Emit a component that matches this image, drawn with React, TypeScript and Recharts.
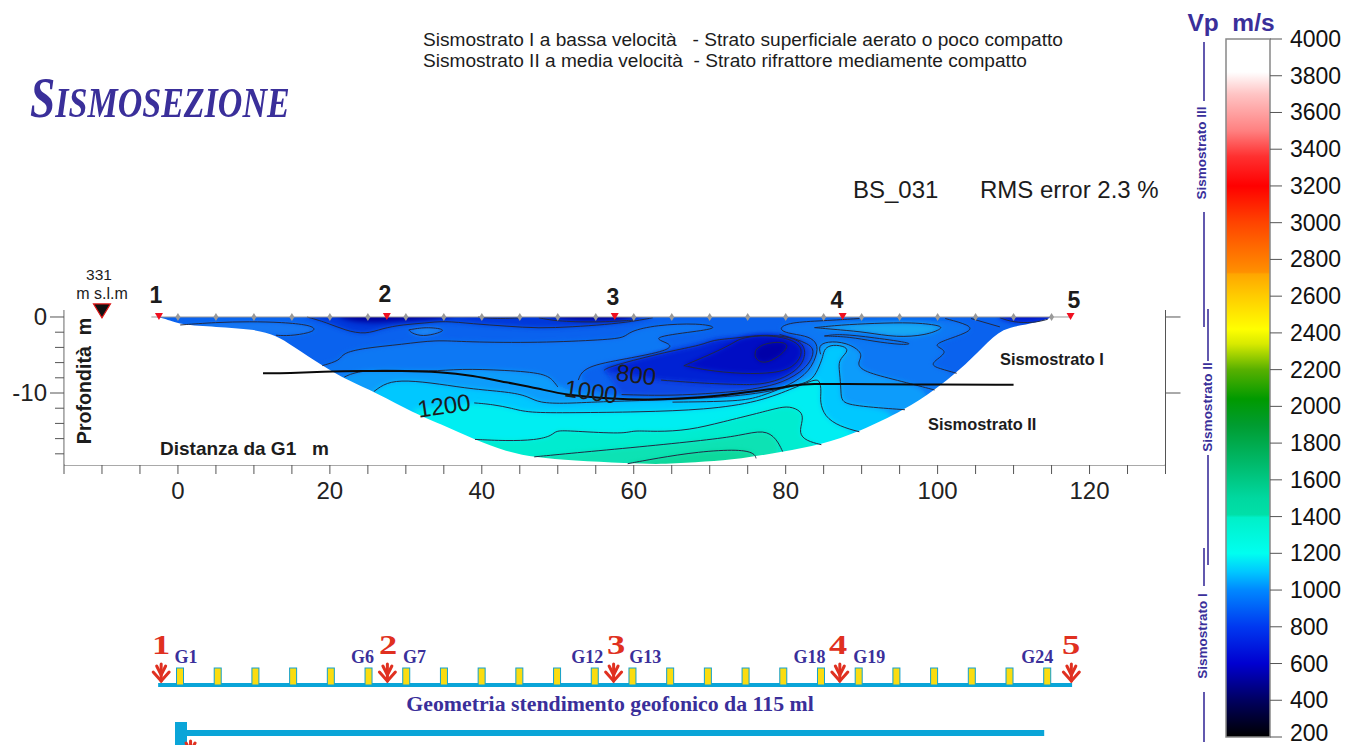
import React from 'react'
import { ScatterChart, Scatter, XAxis, YAxis, ReferenceArea, ReferenceLine } from 'recharts'

type P = [number, number]

// all section points are [distance m, depth m]
const sectionEdge: P[] = [[-3, 0], [-2, 0.1], [0.3, 1.05], [5, 1.3], [10, 1.6], [12.9, 2.4], [15.1, 3.8], [19, 6.4], [22.5, 8.4], [26, 9.9], [31.2, 12.7], [34.4, 14], [39.2, 16.2], [43.2, 17.7], [47.1, 18.5], [52, 18.9], [59, 19.25], [64.2, 19.4], [69.5, 19], [74, 18.7], [79.6, 17.7], [84.7, 16.8], [89.7, 15.1], [95.7, 12.2], [99.6, 9.6], [102.9, 7], [106, 3.9], [108.6, 1.4], [111.7, 1.05], [114.3, 0.35], [115, 0]]

const lensLeft: P[] = [[0.3, 1.05], [5, 0.7], [9.4, 0.6], [13.8, 0.7], [17.3, 1.05], [18.2, 1.6], [17.3, 2.1], [14.7, 2.5], [12.9, 2.4]]
const topDark: P[] = [[17, 0], [19.5, 0.7], [22.1, 1.8], [24.7, 2.3], [26.9, 1.5], [29.6, 1], [32.6, 0.8], [35, 0.5], [38.8, 0.9], [43.2, 1.2], [47.5, 1.5], [51.9, 1.3], [56.3, 1], [59.8, 0.6], [62.5, 0.1]]
const lens30: P[] = [[30.4, 1.7], [32.6, 1.3], [35.3, 1.6], [34.4, 2.1], [32.2, 2.6], [30.7, 2.1], [30.4, 1.7]]
const contour900: P[] = [[19, 6.4], [21.4, 5.7], [21.6, 4.8], [24.3, 4.1], [29.6, 3.6], [33.9, 3], [37.9, 3.3], [47.5, 3.4], [56.3, 3], [58.9, 2.7], [59.4, 1.9], [62.9, 1.05], [68.6, 0.8], [71.4, 1.4], [68.2, 1.9], [61.8, 2.7], [65.1, 3.5], [64.7, 4.4], [59, 5.5], [53.4, 6.5], [52.7, 8.3]]
const contour1000: P[] = [[21.9, 7.9], [23.4, 7.2], [26.9, 6.9], [33.5, 7.2], [37, 6.8], [43.2, 7], [48.4, 7.4], [49.5, 8.5], [50, 9.2]]
const contour1100: P[] = [[25.8, 9.8], [27.4, 8.6], [30, 8.3], [34.4, 8.8], [38.8, 9.5], [44, 9.9], [46.2, 10.5], [47.5, 11.3], [51, 11.4], [56.3, 11.1], [65.1, 10.9], [74, 10.4], [78.3, 9.7], [81.8, 8.9], [83.6, 8.3], [84.5, 6.3], [84.9, 5.2], [85.1, 4.1], [86.2, 3.6], [88, 3.9], [88.2, 4.6], [86.9, 5.7], [87.1, 7.2], [87.3, 9.8], [87.3, 11.1], [88.8, 11.7], [95.7, 12.2]]
const contour1200: P[] = [[39, 11.3], [41.4, 11.5], [44, 12], [46, 12.6], [51.9, 12.6], [60.7, 12.5], [69.5, 12.2], [76.5, 11.2], [81.4, 9.2], [83.6, 8.3], [84.5, 8.2], [84.7, 9.8], [84.5, 11.1], [85.1, 13.1], [87.1, 14.4], [89.7, 15.1]]
const contour1300: P[] = [[39.1, 16.1], [43.2, 16.3], [47.1, 16.2], [49.3, 15.6], [49.7, 14.9], [51.9, 15], [58.9, 15.4], [59.8, 14.9], [62.9, 15.1], [67.3, 14.9], [71.7, 13.8], [76.6, 12.6], [78.8, 12], [80.5, 11.7], [82.1, 12.4], [82.3, 13.5], [81.7, 15.3], [82.7, 16.3], [84.7, 16.8]]
const contour1400: P[] = [[46.9, 18.4], [52, 17.9], [60.7, 17.1], [69.5, 16.2], [74, 15.6], [77.2, 14.8], [78.8, 16], [79.6, 17.7]]
const contour1500: P[] = [[59.2, 19.3], [62.9, 18.6], [68.6, 17.7], [73.9, 17.4], [75.9, 17.9], [76.1, 18.6]]

const deep1: P[] = [[79.2, 2.3], [83.4, 3.5], [83.8, 4.8], [82.7, 6.8], [79.6, 8.7], [76.1, 9.4], [73.9, 9.8], [65.1, 10.4], [58.4, 10.2]]
const deep2: P[] = [[56.1, 7], [56.8, 6.5], [64.6, 4.5], [69, 3.7], [70.4, 3], [73.4, 2.8], [76.1, 2.4], [79.2, 2.4], [81.9, 3], [82.8, 4.6], [81.9, 6.8], [79.2, 8.3], [76.6, 8.9], [74, 8.9], [68.6, 8.7], [63.6, 8.3]]
const deep3: P[] = [[66.6, 6.4], [70.8, 4.6], [73, 3.5], [74, 2.8], [76.6, 2.4], [79.6, 2.6], [81.6, 3.4], [82.3, 4.6], [81.4, 6.3], [79.2, 7.4], [74, 7.5], [69.5, 7], [66.6, 6.4]]
const deep4: P[] = [[76.1, 4.3], [77, 3.5], [79.6, 3.2], [80.5, 3.8], [79.2, 5.2], [77.2, 6.2], [76.1, 5.6], [75.9, 4.9], [76.1, 4.3]]
const wrapDeep: P[] = [[89.7, 0.2], [84.9, 0.5], [80.5, 0.7], [79, 1.5], [80.1, 2.15], [82.7, 2.45], [84, 3.2], [84.3, 4.5], [83.2, 7.2], [80.5, 9], [76.6, 10.5], [74, 11.1], [65.1, 11.2]]
const lensLight: P[] = [[83.8, 1.4], [87.2, 1.05], [91.6, 0.83], [96.8, 0.7], [100.3, 1.1], [100.7, 1.5], [98.5, 2.4], [94.6, 2.7], [90.6, 2], [87.2, 1.7], [83.8, 1.4]]
const lensThin: P[] = [[85.1, 2.5], [87.1, 2.2], [91.5, 2.7], [97.2, 3.5], [95.4, 3.7], [91.5, 3.2], [88.4, 2.6], [85.1, 2.5]]
const mushroomRight: P[] = [[84.6, 4.9], [84.3, 3.8], [85.4, 3.2], [88, 3.3], [90.4, 4.8], [89.3, 6.1], [90.2, 7.2], [94.6, 8.3], [99.6, 9.6]]
const rightWiggle: P[] = [[101, 0.2], [104.4, 1.1], [104.4, 1.9], [101.1, 3], [99.2, 3.8], [101.8, 4.5], [98.7, 6.2], [100.3, 6.8], [102.5, 7.4]]
const rightTop: P[] = [[104.4, 0.2], [108.2, 1.3]]
const rightDark: P[] = [[108.2, 0.1], [109.9, 0.7], [112.6, 0.8], [114.5, 0.3]]
const shallowA: P[] = [[39.5, 0], [42, 0.25], [45, 0.1]]
const shallowB: P[] = [[47.5, 0.1], [50, 0.6], [56, 0.7], [60, 0.4]]
const interfaceLine: P[] = [[11.2, 7.4], [14.7, 7.4], [19, 7.2], [24.3, 7.1], [29.6, 7.1], [34.4, 7.2], [38.8, 7.7], [43.2, 8.6], [47.5, 9.4], [51, 10.3], [57.6, 10.8], [61.6, 10.9], [67.3, 10.7], [71.7, 10.3], [74, 10], [78.3, 9.5], [81.4, 8.9], [83.6, 8.8], [87.1, 8.8], [95.9, 8.9], [110, 8.9]]

const contourLines = [lensLeft, topDark, lens30, contour900, contour1000, contour1100, contour1200, contour1300, contour1400, contour1500, deep1, deep2, deep3, deep4, wrapDeep, lensLight, lensThin, mushroomRight, rightWiggle, rightTop, rightDark, shallowA, shallowB]

const geophones = [0, 5, 10, 15, 20, 25, 30, 35, 40, 45, 50, 55, 60, 65, 70, 75, 80, 85, 90, 95, 100, 105, 110, 115]
const shots = [-2.5, 27.5, 57.5, 87.5, 117.5]
const shotNames = ['1', '2', '3', '4', '5']
const xTicks = [-15, -10, -5, 0, 5, 10, 15, 20, 25, 30, 35, 40, 45, 50, 55, 60, 65, 70, 75, 80, 85, 90, 95, 100, 105, 110, 115, 120, 125, 130]
const yTicks = [0, -2, -4, -6, -8, -10, -12, -14, -16, -18]

const vpTicks = [4000, 3800, 3600, 3400, 3200, 3000, 2800, 2600, 2400, 2200, 2000, 1800, 1600, 1400, 1200, 1000, 800, 600, 400, 200]
const vpStops: [number, string][] = [[4000, '#ffffff'], [3820, '#ffffff'], [3700, '#ffc4c4'], [3500, '#ff8080'], [3360, '#ff3030'], [3200, '#ff0000'], [3000, '#ff4400'], [2800, '#ff7c00'], [2730, '#ff9000'], [2720, '#ffa600'], [2600, '#ffcc00'], [2420, '#ffff00'], [2340, '#d8ea00'], [2200, '#58b000'], [2040, '#009a00'], [1900, '#009c30'], [1700, '#00b868'], [1500, '#00d8a0'], [1410, '#00e0a8'], [1395, '#00f0c8'], [1200, '#00fff0'], [1100, '#00c8ff'], [1000, '#0088ff'], [800, '#0038f0'], [600, '#0000d0'], [400, '#000060'], [200, '#000000']]
// side brackets on the velocity scale: [from m/s, to m/s]
const strato3: [number, number][] = [[3984, 3662], [3058, 2432]]
const strato2: [number, number][] = [[2530, 2247], [1735, 1137]]
const strato1: [number, number][] = [[1229, 1022], [445, 173]]

const geoLabels = [['G1', 0.8], ['G6', 24.2], ['G7', 31.1], ['G12', 54], ['G13', 61.7], ['G18', 83.5], ['G19', 91.4], ['G24', 113.7]] as [string, number][]
const shotMarks = [-2.5, 27.5, 57.5, 87.5, 118.2]
const shotLabelX = [-2.5, 27.6, 57.8, 87.3, 118.2]

const pts = (a: P[]) => a.map(([x, d]) => ({ x, y: -d }))
// edge stretch pushed outward, so the soft band edges fall under the white cover
const edgeBetween = (from: number, to: number) => {
  const seg = sectionEdge
    .filter((p) => p[0] >= Math.min(from, to) && p[0] <= Math.max(from, to))
    .map(([x, d]) => [x + (x > 62 ? 2 : -2), d + 2] as P)
  return from > to ? [...seg].reverse() : seg
}

const sectionBase: P[] = [[-5, -1], [-5, 1], [0, 2.5], [10, 3], [20, 9], [30, 15], [45, 21], [64, 22], [85, 19], [100, 12], [110, 3], [117, 1], [117, -1]]

const fills: [P[], string][] = [
  [[...contour900, [56, 10.4], ...wrapDeep.slice().reverse().slice(0, 12), ...rightWiggle, ...edgeBetween(102, 19)], '#0878f4'],
  [[...lensLeft, [0.3, 1.05]], '#1478f4'],
  [lens30, '#1a88f6'],
  [[...contour1000, [56, 11], ...wrapDeep.slice().reverse().slice(1, 7), ...mushroomRight, ...edgeBetween(99, 22)], '#0a9cfb'],
  [[...contour1100, ...edgeBetween(95, 26)], '#00c8ff'],
  [[[31, 12.2], ...contour1200, ...edgeBetween(89, 32)], '#00eef2'],
  [[...contour1300, ...edgeBetween(84, 40)], '#00ecd0'],
  [[...contour1400, ...edgeBetween(79, 47)], '#08e2b4'],
  [[...contour1500, ...edgeBetween(76, 60)], '#10d89c'],
  [[...deep2.slice(0, 8), ...deep1], '#0846e4'],
  [deep2, '#0224d4'],
  [deep3, '#0008c4'],
  [deep4, '#0000a8'],
  [lensLight, '#12a8f4'],
  [lensThin, '#0a6cee'],
  [[...topDark, [62.5, -1], [17, -1]], '#0638da'],
  [[[20, -1], [22, 0.6], [26, 0.8], [30, 0.5], [36, 0.2], [37, -1]], '#00009c'],
  [[[47, -1], [50, 0.4], [56, 0.55], [60, 0.2], [61, -1]], '#00009c'],
  [[[36, -1], [40, 0.3], [44, -1]], '#0420c8'],
  [[...rightDark, [116, 1], [116, -1], [108.2, -1]], '#0414cc'],
]

// white cover keeps the blurred colours inside the section
const coverBelow: P[] = [[-14.9, 0], [-14.9, 0], [-14.9, 0], [-3, 0], [-3, 0], [-3, 0], ...sectionEdge.slice(1), [115, 0], [115, 0], [129.9, 0], [129.9, 0], [129.9, 0], [129.9, 19.46], [129.9, 19.46], [129.9, 19.46], [-14.9, 19.46], [-14.9, 19.46], [-14.9, 19.46]]
const coverAbove: P[] = [[-14.9, 0], [129.9, 0], [129.9, -0.92], [-14.9, -0.92]]

const none = () => <g />
const FONT = '"Liberation Sans", Arial, sans-serif'
const SERIF = '"Liberation Serif", "Times New Roman", serif'
const INK = '#3a2f9a'

const Txt = ({ x, y, size, children, bold, color, family, rotate, center, italic, stretch }: any) => (
  <div
    style={{
      position: 'absolute',
      left: x,
      top: y,
      fontSize: size,
      fontWeight: bold ? 700 : 400,
      fontStyle: italic ? 'italic' : 'normal',
      color: color || '#1c1c1c',
      fontFamily: family || FONT,
      whiteSpace: 'pre',
      lineHeight: 1,
      transform: `translate(${center ? '-50%' : '0'}, -50%) rotate(${rotate || 0}deg) scaleX(${stretch || 1})`,
    }}
  >
    {children}
  </div>
)

const Geo = ({ cx, cy }: any) => <path d={`M${cx} ${cy - 4}L${cx + 2.5} ${cy}L${cx} ${cy + 4}L${cx - 2.5} ${cy}Z`} fill="#999999" />

const Shot = ({ cx, cy }: any) => <path d={`M${cx - 4} ${cy - 4}L${cx + 4} ${cy - 4}L${cx} ${cy + 3}Z`} fill="#f01020" />

const Elevation = ({ cx, cy }: any) => <path d={`M${cx - 8.5} ${cy - 7}L${cx + 8.5} ${cy - 7}L${cx} ${cy + 7}Z`} fill="#111" stroke="#e01818" strokeWidth={1.2} />

const LeftTick = ({ x, y, payload }: any) => {
  const major = payload.value === 0 || payload.value === -10
  return (
    <g>
      <line x1={x} x2={x - (major ? 14 : 9)} y1={y} y2={y} stroke="#555" />
      {major && (
        <text x={x - 17} y={y + 8} textAnchor="end" fontFamily={FONT} fontSize={24} fill="#222">
          {payload.value}
        </text>
      )}
    </g>
  )
}

const VpTick = ({ x, y, payload }: any) => (
  <text x={x} y={y + (payload.value === 200 ? 4 : 8)} fontFamily={FONT} fontSize={23} fill="#111">
    {payload.value}
  </text>
)

const Phone = ({ cx, cy }: any) => <rect x={cx - 3.5} y={cy - 17} width={7} height={17} fill="#fbdc10" stroke="#14a0cc" strokeWidth={1} />

const Arrow = ({ cx, cy }: any) => (
  <g stroke="#e03020" strokeWidth={3} fill="none" strokeLinecap="round">
    <path d={`M${cx} ${cy - 19}L${cx} ${cy - 2}`} />
    <path d={`M${cx - 8} ${cy - 11}L${cx} ${cy - 2}L${cx + 8} ${cy - 11}`} />
    <path d={`M${cx - 4.5} ${cy - 17}L${cx} ${cy - 8}L${cx + 4.5} ${cy - 17}`} />
  </g>
)

function SectionChart() {
  return (
    <ScatterChart width={1346} height={745} margin={{ left: 24, right: 164.5, top: 310, bottom: 240 }} style={{ position: 'absolute', left: 0, top: 0 }}>
      <defs>
        <filter id="soft" filterUnits="userSpaceOnUse" x="0" y="0" width="1346" height="745">
          <feGaussianBlur stdDeviation="2.6" />
        </filter>
      </defs>
      <XAxis type="number" dataKey="x" domain={[-15, 130]} ticks={xTicks} interval={0} allowDataOverflow tickSize={9} tickMargin={8} stroke="#555" height={40} tick={{ fontFamily: FONT, fontSize: 24, fill: '#222' }} tickFormatter={(v) => (v >= 0 && v <= 120 && v % 20 === 0 ? String(v) : '')} />
      <YAxis type="number" dataKey="y" domain={[-19.47, 0.92]} ticks={yTicks} interval={0} allowDataOverflow width={40} tickLine={false} tickSize={0} tickMargin={0} stroke="#555" tick={<LeftTick />} />
      <YAxis yAxisId="r" orientation="right" type="number" dataKey="y" domain={[-19.47, 0.92]} ticks={[0, -10]} interval={0} allowDataOverflow width={16} tickSize={15} stroke="#555" tickFormatter={() => ''} />
      <Scatter data={pts(sectionBase)} isAnimationActive={false} shape={none} line={{ stroke: 'none', fill: '#0a62ee' } as any} />
      {fills.map(([p, c], i) => (
        <Scatter key={'f' + i} data={pts(p)} isAnimationActive={false} shape={none} line={{ stroke: 'none', fill: c, filter: 'url(#soft)' } as any} lineJointType="basis" />
      ))}
      <Scatter data={pts(coverBelow)} isAnimationActive={false} shape={none} line={{ stroke: 'none', fill: '#ffffff' } as any} lineJointType="basis" />
      <Scatter data={pts(coverAbove)} isAnimationActive={false} shape={none} line={{ stroke: 'none', fill: '#ffffff' } as any} />
      {contourLines.map((p, i) => (
        <Scatter key={'c' + i} data={pts(p)} isAnimationActive={false} shape={none} line={{ stroke: '#222a44', strokeWidth: 1, fill: 'none' } as any} lineJointType="basis" />
      ))}
      <Scatter data={pts(interfaceLine)} isAnimationActive={false} shape={none} line={{ stroke: '#0a0a0a', strokeWidth: 2, fill: 'none' } as any} lineJointType="basis" />
    </ScatterChart>
  )
}

// surface markers sit above the plot top, so they go on a chart that does not clip
function MarkerChart() {
  return (
    <ScatterChart width={1346} height={745} margin={{ left: 64, right: 180.5, top: 310, bottom: 280 }} style={{ position: 'absolute', left: 0, top: 0 }}>
      <XAxis type="number" dataKey="x" domain={[-15, 130]} hide />
      <YAxis type="number" dataKey="y" domain={[-19.47, 0.92]} hide />
      <Scatter data={[{ x: -3.5, y: 0 }, { x: 117.5, y: 0 }]} isAnimationActive={false} shape={none} line={{ stroke: '#999', strokeWidth: 1, fill: 'none' } as any} />
      <Scatter data={geophones.map((x) => ({ x, y: 0 }))} isAnimationActive={false} shape={<Geo />} />
      <Scatter data={shots.map((x) => ({ x, y: 0 }))} isAnimationActive={false} shape={<Shot />} />
      <Scatter data={[{ x: -10, y: 0.8 }]} isAnimationActive={false} shape={<Elevation />} />
    </ScatterChart>
  )
}

function ColorBar() {
  const bracket = (list: [number, number][], x: number) =>
    list.map(([a, b]) => (
      <ReferenceLine key={`${x}-${a}`} ifOverflow="visible" stroke={INK} strokeWidth={1.6} segment={[{ x, y: a }, { x, y: b }]} />
    ))
  return (
    <ScatterChart width={150} height={745} margin={{ left: 0, right: 0, top: 39, bottom: 8 }} style={{ position: 'absolute', left: 1196, top: 0 }}>
      <defs>
        <linearGradient id="vp" x1="0" y1="0" x2="0" y2="1">
          {vpStops.map(([v, c]) => (
            <stop key={v} offset={(4000 - v) / 3800} stopColor={c} />
          ))}
        </linearGradient>
      </defs>
      <XAxis type="number" dataKey="x" domain={[0, 74]} hide />
      <YAxis orientation="right" type="number" dataKey="y" domain={[200, 4000]} ticks={vpTicks} interval={0} width={76} axisLine={false} tickSize={12} tickMargin={8} stroke="#555" tick={<VpTick />} />
      <ReferenceArea x1={30} x2={74} y1={200} y2={4000} fill="url(#vp)" fillOpacity={1} stroke="#888" strokeWidth={1.5} ifOverflow="visible" />
      {bracket(strato3, 8)}
      {bracket(strato2, 12)}
      {bracket(strato1, 8)}
      <Scatter data={vpTicks.map((v) => ({ x: 74, y: v }))} isAnimationActive={false} shape={none} />
    </ScatterChart>
  )
}

function GeometryChart() {
  return (
    <ScatterChart width={1000} height={105} margin={{ left: 0, right: 0, top: 0, bottom: 0 }} style={{ position: 'absolute', left: 100, top: 640 }}>
      <XAxis type="number" dataKey="x" domain={[-10.61, 122]} hide />
      <YAxis type="number" dataKey="y" domain={[-60, 45]} allowDataOverflow hide />
      <Scatter data={[{ x: -2.9, y: 0 }, { x: 118.3, y: 0 }]} isAnimationActive={false} shape={none} line={{ stroke: '#0aa5d8', strokeWidth: 4, fill: 'none' } as any} />
      <Scatter data={[{ x: 0.9, y: -48 }, { x: 114.6, y: -48 }]} isAnimationActive={false} shape={none} line={{ stroke: '#0aa5d8', strokeWidth: 6, fill: 'none' } as any} />
      <Scatter data={[{ x: 0.13, y: -37 }, { x: 0.13, y: -60 }]} isAnimationActive={false} shape={none} line={{ stroke: '#0aa5d8', strokeWidth: 12, fill: 'none' } as any} />
      <Scatter data={geophones.map((x) => ({ x, y: 0 }))} isAnimationActive={false} shape={<Phone />} />
      <Scatter data={shotMarks.map((x) => ({ x, y: 2 }))} isAnimationActive={false} shape={<Arrow />} />
      <Scatter data={[{ x: 1.4, y: -75 }]} isAnimationActive={false} shape={<Arrow />} />
    </ScatterChart>
  )
}

const surfaceLabels: [string, number, number][] = [['1', 156, 295], ['2', 385, 294], ['3', 613, 297], ['4', 837, 300], ['5', 1074, 300]]

export default function App() {
  return (
    <div style={{ position: 'absolute', left: 0, top: 0, width: 1346, height: 745, overflow: 'hidden', background: '#fff' }}>
      <SectionChart />
      <MarkerChart />
      <ColorBar />
      <GeometryChart />

      <Txt x={423} y={40} size={19.1}>{'Sismostrato I a bassa velocità   - Strato superficiale aerato o poco compatto'}</Txt>
      <Txt x={423} y={61} size={19.1}>{'Sismostrato II a media velocità  - Strato rifrattore mediamente compatto'}</Txt>
      <div style={{ position: 'absolute', left: 30, top: 68, fontFamily: SERIF, fontWeight: 700, fontStyle: 'italic', color: INK, fontSize: 42, lineHeight: '60px', whiteSpace: 'pre', transform: 'scaleX(0.81)', transformOrigin: 'left' }}>
        <span style={{ fontSize: 56 }}>S</span>ISMOSEZIONE
      </div>
      <Txt x={853} y={190} size={24}>BS_031</Txt>
      <Txt x={980} y={190} size={24}>RMS error 2.3 %</Txt>

      {surfaceLabels.map(([t, x, y]) => (
        <Txt key={t} x={x} y={y} size={23} bold center>{t}</Txt>
      ))}
      <Txt x={99} y={275} size={15.5} center>331</Txt>
      <Txt x={102} y={294} size={16} center>m s.l.m</Txt>
      <Txt x={85} y={381} size={19.6} bold center rotate={-90}>Profondità  m</Txt>
      <Txt x={160} y={448} size={19} bold>Distanza da G1   m</Txt>
      <Txt x={1000} y={359} size={16.4} bold>Sismostrato I</Txt>
      <Txt x={928} y={424} size={16.4} bold>Sismostrato II</Txt>
      <Txt x={444} y={406} size={24} center rotate={-8}>1200</Txt>
      <Txt x={591} y={392} size={24} center rotate={8}>1000</Txt>
      <Txt x={636} y={375} size={24} center rotate={7}>800</Txt>

      <Txt x={1231} y={23} size={24.5} bold color={INK} center>{'Vp  m/s'}</Txt>
      <Txt x={1202} y={153} size={13.5} bold color={INK} center rotate={-90}>Sismostrato III</Txt>
      <Txt x={1208} y={407} size={13.5} bold color={INK} center rotate={-90}>Sismostrato II</Txt>
      <Txt x={1203} y={636} size={13.5} bold color={INK} center rotate={-90}>Sismostrato I</Txt>

      {geoLabels.map(([t, m]) => (
        <Txt key={t} x={180 + m * 7.54} y={657} size={18} bold family={SERIF} color={INK} center>{t}</Txt>
      ))}
      {shotNames.map((t, i) => (
        <Txt key={t} x={180 + shotLabelX[i] * 7.54} y={645} size={27} bold family={SERIF} color="#e03020" center stretch={1.35}>{t}</Txt>
      ))}
      <Txt x={610} y={705} size={21.8} bold family={SERIF} color={INK} center>Geometria stendimento geofonico da 115 ml</Txt>
    </div>
  )
}
